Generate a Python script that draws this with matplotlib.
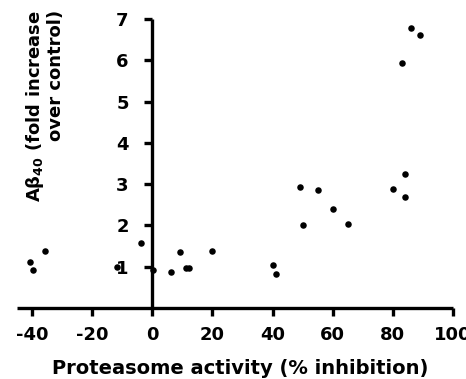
import matplotlib
matplotlib.use("Agg")
import matplotlib.pyplot as plt

# Data: proteasome inhibition (%) vs Abeta40 fold increase over control
inhibition = [-40.7, -39.7, -35.7, -11.7, -3.9, 0.1, 6.2, 9.3, 11.3, 12.3, 20.0,
              40.0, 41.0, 49.0, 50.2, 55.1, 60.1, 65.0, 79.9, 84.0, 84.0,
              82.9, 85.9, 89.0]
abeta40 = [1.12, 0.92, 1.38, 0.99, 1.58, 0.92, 0.87, 1.36, 0.96, 0.98, 1.38,
           1.03, 0.83, 2.94, 2.01, 2.85, 2.40, 2.04, 2.88, 2.69, 3.24,
           5.93, 6.77, 6.61]
xticks = [-40, -20, 0, 20, 40, 60, 80, 100]
yticks = [1, 2, 3, 4, 5, 6, 7]

plt.rcParams['font.family'] = ['DejaVu Sans']
plt.rcParams['font.weight'] = 'bold'
plt.rcParams['axes.unicode_minus'] = False
plt.rcParams['mathtext.fontset'] = 'dejavusans'

fig = plt.figure(figsize=(4.66, 3.79), dpi=100)
ax = fig.add_axes([0.0365, 0.1873, 0.972 - 0.0365, 0.9499 - 0.1873])

ax.scatter(inhibition, abeta40, s=22, color='black', zorder=3, linewidths=0)

ax.set_xlim(-45, 100)
ax.set_ylim(0, 7)
ax.spines['left'].set_position(('data', 0))
ax.spines['bottom'].set_position(('data', 0))
ax.spines['top'].set_visible(False)
ax.spines['right'].set_visible(False)
for s in ('left', 'bottom'):
    ax.spines[s].set_linewidth(2.4)
    ax.spines[s].set_capstyle('butt')

ax.set_xticks(xticks)
ax.set_yticks(yticks)
ax.tick_params(axis='both', direction='out', length=6, width=2.4, labelsize=13)
ax.tick_params(axis='y', pad=11)
ax.tick_params(axis='x', pad=7)
for lab in ax.get_xticklabels() + ax.get_yticklabels():
    lab.set_fontweight('bold')

ax.set_xlabel('Proteasome activity (% inhibition)', fontsize=14, fontweight='bold',
              labelpad=10.5)
ax.xaxis.label.set_x(0.511)
fig.text(0.095, 0.72, 'A$\\mathbf{\\beta}_{\\mathbf{40}}$ (fold increase\nover control)',
         rotation=90, fontsize=13, fontweight='bold', ha='center', va='center',
         multialignment='right', linespacing=1.1)

fig.savefig('out.png', dpi=100)
